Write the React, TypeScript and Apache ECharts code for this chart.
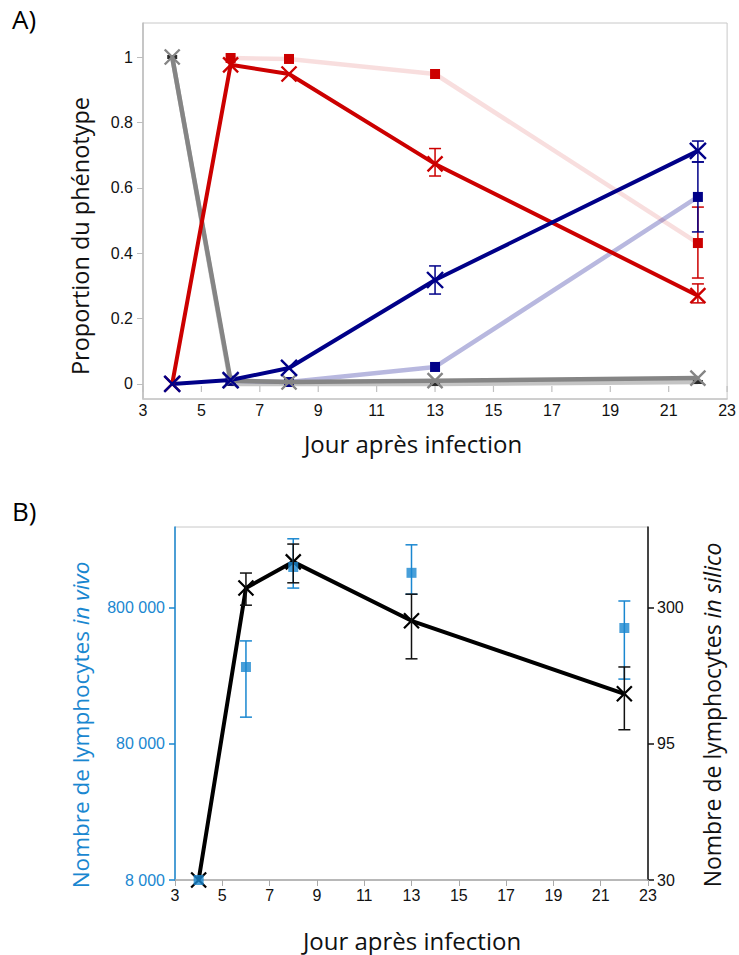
import React, { useEffect, useRef } from "react";
import * as echarts from "echarts";

// ---------- Data ----------
const days = [4, 6, 8, 13, 22];
const xTickValues = [3, 5, 7, 9, 11, 13, 15, 17, 19, 21, 23];
const yTickValuesA = [0, 0.2, 0.4, 0.6, 0.8, 1];

// Panel A: proportion of phenotype (simulation = X, experiment = squares)
const naiveSim = [1.0, 0.01, 0.006, 0.01, 0.018];
const naiveExp = [1.0, 0.0, 0.0, 0.0, 0.006];
const effSim = [0, 0.976, 0.948, 0.673, 0.27];
const effExp = [null, 0.997, 0.994, 0.948, 0.431];
const memSim = [0, 0.012, 0.049, 0.318, 0.713];
const memExp = [null, 0.01, 0.006, 0.052, 0.572];

const effSimErr = [[13, 0.636, 0.72], [22, 0.248, 0.306]];
const effExpErr = [[22, 0.324, 0.541]];
const memSimErr = [[13, 0.275, 0.361], [22, 0.679, 0.743]];
const memExpErr = [[22, 0.465, 0.679]];

// Panel B: lymphocyte counts
const vivo = [8000, 294500, 1600000, 1450000, 570000];
const vivoErr = [[6, 126000, 458000], [8, 1120000, 2580000], [13, 1010000, 2330000], [22, 240000, 900000]];
const silico = [30, 355, 443, 269, 145];
const silicoErr = [[6, 307, 403], [8, 371, 515], [13, 195, 337], [22, 107, 182]];

const leftTicksB = [8000, 80000, 800000];
const rightTicksB = [30, 95, 300];

// ---------- Styles ----------
const RED = "#cc0000";
const NAVY = "#000088";
const GRAY = "#858585";
const BLUE = "#1a87d0";
const TICK_FONT = "'Liberation Sans', Arial, sans-serif";
const TITLE_FONT = "'Open Sans', 'Noto Sans', sans-serif";
const XSYM = "path://M0 0L10 10M10 0L0 10";

const pairs = (ys: (number | null)[]) => days.map((d, i) => [d, ys[i]]);

function errSeries(data: number[][], color: string, xi: number, yi: number, cap = 6, lw = 1.5) {
  return {
    type: "custom",
    xAxisIndex: xi,
    yAxisIndex: yi,
    data,
    z: 6,
    silent: true,
    encode: { x: 0, y: [1, 2] },
    renderItem: (_p: any, api: any) => {
      const x = api.value(0);
      const p1 = api.coord([x, api.value(1)]);
      const p2 = api.coord([x, api.value(2)]);
      const st = { stroke: color, lineWidth: lw };
      return {
        type: "group",
        children: [
          { type: "line", shape: { x1: p1[0], y1: p1[1], x2: p2[0], y2: p2[1] }, style: st },
          { type: "line", shape: { x1: p1[0] - cap, y1: p1[1], x2: p1[0] + cap, y2: p1[1] }, style: st },
          { type: "line", shape: { x1: p2[0] - cap, y1: p2[1], x2: p2[0] + cap, y2: p2[1] }, style: st },
        ],
      };
    },
  };
}

function simLine(ys: number[], color: string, xi: number, yi: number, width = 4, size = 15) {
  return {
    type: "line",
    xAxisIndex: xi,
    yAxisIndex: yi,
    data: pairs(ys),
    z: 4,
    symbol: XSYM,
    symbolSize: size,
    showAllSymbol: true,
    lineStyle: { color, width },
    itemStyle: { color: "rgba(0,0,0,0)", borderColor: color, borderWidth: 2.4 },
  };
}

function expLine(ys: (number | null)[], lineColor: string, markColor: string, size: any = 10) {
  return {
    type: "line",
    xAxisIndex: 0,
    yAxisIndex: 0,
    data: pairs(ys),
    z: 3,
    symbol: "rect",
    symbolSize: size,
    showAllSymbol: true,
    connectNulls: false,
    lineStyle: { color: lineColor, width: 4.5 },
    itemStyle: { color: markColor },
  };
}

const fmtSpace = (v: number) => String(Math.round(v)).replace(/\B(?=(\d{3})+(?!\d))/g, " ");

function title(text: string, x: number, y: number, size: number, color: string, rotate: boolean, italic?: string) {
  const rich: any = {
    a: { fontSize: size, fontFamily: TITLE_FONT, fill: color, color },
    b: { fontSize: size, fontFamily: TITLE_FONT, fill: color, color, fontStyle: "italic" },
  };
  return {
    type: "text",
    x,
    y,
    rotation: rotate ? Math.PI / 2 : 0,
    z: 10,
    style: {
      text: italic ? `{a|${text}}{b|${italic}}` : `{a|${text}}`,
      rich,
      align: "center",
      verticalAlign: "middle",
      fill: color,
    },
  };
}

export default function App() {
  const ref = useRef<HTMLDivElement>(null);
  useEffect(() => {
    if (!ref.current) return;
    const chart = echarts.init(ref.current, undefined, { renderer: "svg" });
    const option: any = {
      animation: false,
      backgroundColor: "#ffffff",
      graphic: [
        { type: "text", left: 12, top: 6, style: { text: "A)", font: `26px ${TITLE_FONT}`, fill: "#000" } },
        { type: "text", left: 12, top: 498, style: { text: "B)", font: `26px ${TITLE_FONT}`, fill: "#000" } },
        title("Jour après infection", 413, 443, 24, "#111", false),
        title("Proportion du phénotype", 80, 236, 23.5, "#111", true),
        title("Jour après infection", 412, 940, 24, "#111", false),
        title("Nombre de lymphocytes ", 80, 725, 22.5, BLUE, true, "in vivo"),
        title("Nombre de lymphocytes ", 712, 715, 23, "#111", true, "in silico"),
      ],
      grid: [
        { left: 143, right: 11, top: 23, bottom: 556, show: true, borderColor: "#c8c8c8", borderWidth: 1, backgroundColor: "#fff" },
        { left: 175, right: 91, top: 527, bottom: 75, show: true, borderColor: "#c8c8c8", borderWidth: 1, backgroundColor: "#fff" },
      ],
      xAxis: [
        {
          gridIndex: 0,
          type: "value",
          min: 3,
          max: 23,
          splitLine: { show: false },
          axisLine: { show: true, onZero: false, lineStyle: { color: "#c8c8c8", width: 1.5 } },
          axisTick: { show: false },
          axisLabel: { customValues: xTickValues, margin: 3, color: "#111", fontSize: 16, fontFamily: TICK_FONT },
        },
        {
          gridIndex: 1,
          type: "value",
          min: 3,
          max: 23,
          splitLine: { show: false },
          axisLine: { show: true, onZero: false, lineStyle: { color: "#aaaaaa", width: 1.5 } },
          axisTick: { show: true, length: 6, customValues: xTickValues, lineStyle: { color: "#aaaaaa" } },
          axisLabel: { customValues: xTickValues, margin: 7, color: "#111", fontSize: 16, fontFamily: TICK_FONT },
        },
      ],
      yAxis: [
        {
          gridIndex: 0,
          type: "value",
          min: -0.046,
          max: 1.104,
          splitLine: { show: false },
          axisLine: { show: true, onZero: false, lineStyle: { color: "#bdbdbd", width: 1.5 } },
          axisTick: { show: true, length: 6, customValues: yTickValuesA, lineStyle: { color: "#bdbdbd" } },
          axisLabel: { customValues: yTickValuesA, margin: 10, color: "#111", fontSize: 16, fontFamily: TICK_FONT },
        },
        {
          gridIndex: 1,
          type: "log",
          logBase: 10,
          min: 8000,
          max: 3150000,
          position: "left",
          splitLine: { show: false },
          axisLine: { show: true, onZero: false, lineStyle: { color: BLUE, width: 1.5 } },
          axisTick: { show: true, length: 6, customValues: leftTicksB, lineStyle: { color: BLUE, width: 1.5 } },
          axisLabel: { customValues: leftTicksB, formatter: (v: number) => fmtSpace(v), margin: 10, color: BLUE, fontSize: 16, fontFamily: TICK_FONT },
        },
        {
          gridIndex: 1,
          type: "log",
          logBase: 10,
          min: 30,
          max: 595,
          position: "right",
          splitLine: { show: false },
          axisLine: { show: true, onZero: false, lineStyle: { color: "#111", width: 1.5 } },
          axisTick: { show: true, length: 6, customValues: rightTicksB, lineStyle: { color: "#111", width: 1.5 } },
          axisLabel: { customValues: rightTicksB, margin: 9, color: "#111", fontSize: 16, fontFamily: TICK_FONT },
        },
      ],
      series: [
        // Panel A x ticks hanging below the zero line
        {
          type: "custom",
          xAxisIndex: 0,
          yAxisIndex: 0,
          data: xTickValues.map((v) => [v, 0]),
          silent: true,
          z: 1,
          renderItem: (_p: any, api: any) => {
            const p = api.coord([api.value(0), api.value(1)]);
            return {
              type: "line",
              shape: { x1: p[0], y1: p[1] + 2, x2: p[0], y2: p[1] + 8 },
              style: { stroke: "#c0c0c0", lineWidth: 1.2 },
            };
          },
        },
        // Panel A experiments (light lines, square markers)
        expLine(naiveExp, "#c4c4c4", "#2a2a2a", [10, 4]),
        expLine(effExp, "rgba(204,0,0,0.13)", RED, 10),
        expLine(memExp, "rgba(0,0,140,0.28)", NAVY, 10),
        // Panel A simulations (thick lines, X markers)
        simLine(naiveSim, GRAY, 0, 0, 4.5),
        simLine(effSim, RED, 0, 0, 4),
        simLine(memSim, NAVY, 0, 0, 4, 16),
        // Panel A error bars
        errSeries(effSimErr, RED, 0, 0),
        errSeries(effExpErr, RED, 0, 0),
        errSeries(memSimErr, NAVY, 0, 0),
        errSeries(memExpErr, NAVY, 0, 0),
        // Panel B
        errSeries(vivoErr, BLUE, 1, 1, 6, 1.5),
        errSeries(silicoErr, "#111", 1, 2, 6, 1.5),
        {
          type: "line",
          xAxisIndex: 1,
          yAxisIndex: 2,
          data: pairs(silico),
          z: 4,
          symbol: XSYM,
          symbolSize: 15,
          showAllSymbol: true,
          lineStyle: { color: "#000", width: 4 },
          itemStyle: { color: "rgba(0,0,0,0)", borderColor: "#000", borderWidth: 2.2 },
        },
        {
          type: "scatter",
          xAxisIndex: 1,
          yAxisIndex: 1,
          data: pairs(vivo),
          z: 5,
          symbol: "rect",
          symbolSize: 10,
          itemStyle: { color: BLUE },
        },
      ],
    };
    chart.setOption(option);
    return () => chart.dispose();
  }, []);
  return (
    <div
      ref={ref}
      style={{ position: "fixed", left: 0, top: 0, width: 739, height: 955, background: "#fff" }}
    />
  );
}
